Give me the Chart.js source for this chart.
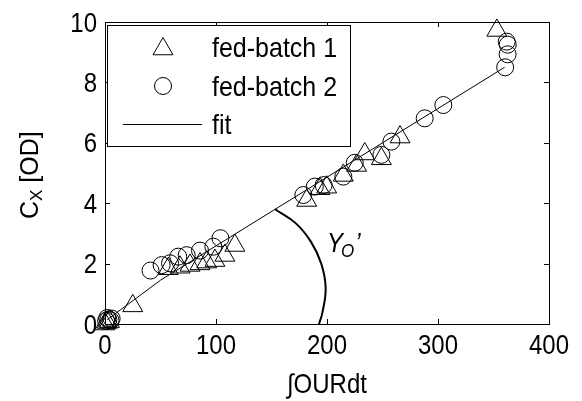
<!DOCTYPE html>
<html><head><meta charset="utf-8">
<script src="https://cdn.jsdelivr.net/npm/chart.js@4/dist/chart.umd.min.js"></script>
<style>html,body{margin:0;padding:0;background:#fff}#wrap{width:582px;height:401px}</style>
</head><body><div id="wrap"><canvas id="c" width="582" height="401"></canvas></div>
<script>
// ---- data ----
const seriesLabels = ['fed-batch 1', 'fed-batch 2', 'fit'];
const fb1X = [0, 2, 4, 25, 57, 67.6, 76.6, 85.6, 91.6, 99, 108, 117, 181.7, 193.7, 199.7, 214.7, 226.7, 234, 249, 265.8, 353];
const fb1Y = [0.0, 0.05, 0.08, 0.6, 1.83, 1.88, 1.94, 1.99, 2.05, 2.1, 2.27, 2.6, 4.09, 4.48, 4.53, 4.92, 5.25, 5.63, 5.47, 6.19, 9.72];
const fb2X = [1, 2, 3, 5, 6, 41, 51, 58.6, 66, 73.6, 85.6, 97.6, 104, 178.7, 189, 197, 214.7, 225, 249, 258, 288, 304.8, 360.5, 362.7, 361.9, 362.8];
const fb2Y = [0.1, 0.2, 0.15, 0.12, 0.18, 1.77, 1.95, 2.01, 2.23, 2.28, 2.43, 2.56, 2.84, 4.27, 4.55, 4.6, 4.88, 5.34, 5.6, 6.04, 6.81, 7.25, 8.5, 8.93, 9.35, 9.25];
const fitX = [2, 14, 50, 360];
const fitY = [0.14, 0.47, 1.45, 8.5];
const arcX = [153.2, 171.7, 185.6, 194.9, 198.8, 195.8, 192.8];
const arcY = [3.80, 3.34, 2.72, 1.99, 1.18, 0.37, 0.0];
const xTicks = [0, 100, 200, 300, 400];
const yTicks = [0, 2, 4, 6, 8, 10];
const xTitle = '\u222BOURdt';
const yTitleMain = 'C', yTitleSub = 'X', yTitleRest = ' [OD]';
const angleLabel = { x: 200, y: 2.38, main: 'Y', sub: 'O', post: '\u2019' };

const FONT = '"Liberation Sans", Arial, sans-serif';
const SY = 1.12; // vertical stretch of the reference lettering
const zip = (xs, ys) => xs.map((x, i) => ({ x, y: ys[i] }));

function txt(ctx, s, x, y, font, align) {
  ctx.save();
  ctx.translate(x, y);
  ctx.scale(1, SY);
  ctx.font = font;
  ctx.textAlign = align || 'left';
  ctx.textBaseline = 'alphabetic';
  ctx.fillText(s, 0, 0);
  const w = ctx.measureText(s).width;
  ctx.restore();
  return w;
}

const overlay = {
  id: 'overlay',
  afterDatasetsDraw(chart) {
    const ctx = chart.ctx, a = chart.chartArea;
    const xs = chart.scales.x, ys = chart.scales.y;
    ctx.save();
    ctx.strokeStyle = '#000'; ctx.fillStyle = '#000'; ctx.lineWidth = 1;
    // frame
    ctx.strokeRect(Math.round(a.left) + 0.5, Math.round(a.top) + 0.5, Math.round(a.right - a.left), Math.round(a.bottom - a.top));
    // inward ticks on all sides
    const tl = 5;
    ctx.beginPath();
    xTicks.forEach(v => {
      const px = Math.round(xs.getPixelForValue(v)) + 0.5;
      ctx.moveTo(px, a.bottom); ctx.lineTo(px, a.bottom - tl);
      ctx.moveTo(px, a.top); ctx.lineTo(px, a.top + tl);
    });
    yTicks.forEach(v => {
      const py = Math.round(ys.getPixelForValue(v)) + 0.5;
      ctx.moveTo(a.left, py); ctx.lineTo(a.left + tl, py);
      ctx.moveTo(a.right, py); ctx.lineTo(a.right - tl, py);
    });
    ctx.stroke();

    const F24 = '24px ' + FONT;
    // tick labels
    xTicks.forEach(v => txt(ctx, String(v), xs.getPixelForValue(v), a.bottom + 30, F24, 'center'));
    yTicks.forEach(v => txt(ctx, String(v), a.left - 8, ys.getPixelForValue(v) + 9.5, F24, 'right'));

    // x title
    txt(ctx, xTitle, (a.left + a.right) / 2, 393, F24, 'center');

    // y title with subscript (rotated)
    ctx.save();
    ctx.translate(38, (a.top + a.bottom) / 2);
    ctx.rotate(-Math.PI / 2);
    let cx = -46;
    ctx.textAlign = 'left'; ctx.textBaseline = 'alphabetic';
    ctx.font = '25px ' + FONT;
    ctx.fillText(yTitleMain, cx, 0); cx += ctx.measureText(yTitleMain).width;
    ctx.font = '17px ' + FONT;
    ctx.fillText(yTitleSub, cx, 4); cx += ctx.measureText(yTitleSub).width;
    ctx.font = '25px ' + FONT;
    ctx.fillText(yTitleRest, cx, 0);
    ctx.restore();

    // angle label
    let lx = xs.getPixelForValue(angleLabel.x), ly = ys.getPixelForValue(angleLabel.y);
    lx += txt(ctx, angleLabel.main, lx, ly, 'italic 24px ' + FONT) - 2;
    lx += txt(ctx, angleLabel.sub, lx, ly + 5, 'italic 17px ' + FONT) + 1;
    txt(ctx, angleLabel.post, lx, ly, 'italic 24px ' + FONT);

    // legend
    const L = { x: 107.5, y: 25.5, w: 243, h: 121 };
    ctx.fillStyle = '#fff';
    ctx.fillRect(L.x, L.y, L.w, L.h);
    ctx.strokeRect(L.x, L.y, L.w, L.h);
    ctx.fillStyle = '#000';
    const rows = [47, 86, 124];
    const ds = chart.data.datasets;
    for (let i = 0; i < 3; i++) {
      const y = rows[i];
      if (i === 0) {
        const r = ds[0].pointRadius;
        ctx.beginPath();
        for (let k = 0; k < 3; k++) {
          const ang = k * 2 * Math.PI / 3;
          const px = 163 + Math.sin(ang) * r, py = y + 2 - Math.cos(ang) * r;
          k ? ctx.lineTo(px, py) : ctx.moveTo(px, py);
        }
        ctx.closePath(); ctx.stroke();
      } else if (i === 1) {
        ctx.beginPath(); ctx.arc(163, y, ds[1].pointRadius, 0, 2 * Math.PI); ctx.stroke();
      } else {
        ctx.beginPath(); ctx.moveTo(123, y + 0.5); ctx.lineTo(202, y + 0.5); ctx.stroke();
      }
      txt(ctx, seriesLabels[i], 212, y + 9.5, '25px ' + FONT);
    }
    ctx.restore();
  }
};

new Chart(document.getElementById('c'), {
  type: 'scatter',
  data: {
    datasets: [
      { label: seriesLabels[0], data: zip(fb1X, fb1Y), pointStyle: 'triangle', pointRadius: 11.5,
        borderColor: '#000', backgroundColor: 'rgba(0,0,0,0)', borderWidth: 1, clip: false },
      { label: seriesLabels[1], data: zip(fb2X, fb2Y), pointStyle: 'circle', pointRadius: 8.5,
        borderColor: '#000', backgroundColor: 'rgba(0,0,0,0)', borderWidth: 1, clip: false },
      { label: seriesLabels[2], data: zip(fitX, fitY), showLine: true, pointRadius: 0,
        borderColor: '#000', borderWidth: 1, tension: 0, clip: false },
      { label: 'angle', data: zip(arcX, arcY), showLine: true, pointRadius: 0,
        borderColor: '#000', borderWidth: 2, tension: 0.4, clip: false }
    ]
  },
  options: {
    responsive: false, animation: false, devicePixelRatio: 1,
    layout: { padding: { left: 0, right: 33, top: 22, bottom: 0 } },
    plugins: { legend: { display: false }, tooltip: { enabled: false } },
    scales: {
      x: { type: 'linear', min: 0, max: 400,
        afterBuildTicks: s => { s.ticks = xTicks.map(v => ({ value: v })); },
        afterFit: s => { s.height = 77; },
        grid: { display: false, drawTicks: false }, border: { display: false },
        ticks: { display: false } },
      y: { type: 'linear', min: 0, max: 10,
        afterBuildTicks: s => { s.ticks = yTicks.map(v => ({ value: v })); },
        afterFit: s => { s.width = 105; },
        grid: { display: false, drawTicks: false }, border: { display: false },
        ticks: { display: false } }
    }
  },
  plugins: [overlay]
});
</script>
</body></html>
